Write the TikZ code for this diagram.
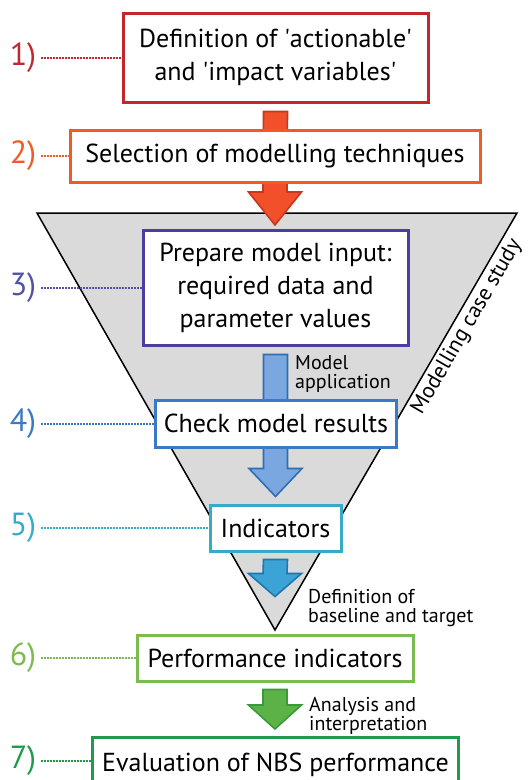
\documentclass[tikz,border=0pt]{standalone}
\usepackage{fontspec}
\setmainfont{PT Sans}
\usetikzlibrary{calc}
\pgfdeclarelayer{bg}
\pgfsetlayers{bg,main}

\definecolor{cred}{HTML}{C1272D}
\definecolor{corange}{HTML}{F15A24}
\definecolor{cpurple}{HTML}{4A3FA0}
\definecolor{cpurplelab}{HTML}{5151A8}
\definecolor{cblue}{HTML}{3A7AC4}
\definecolor{cteal}{HTML}{36ABC7}
\definecolor{clime}{HTML}{7CBB4F}
\definecolor{cgreen}{HTML}{1F9B4B}
\definecolor{funnel}{HTML}{DADADA}
\definecolor{afillA}{HTML}{F1502A}
\definecolor{aedgeA}{HTML}{C8381E}
\definecolor{afillB}{HTML}{7BA7E1}
\definecolor{aedgeB}{HTML}{2F6DB5}
\definecolor{afillC}{HTML}{3BA3D6}
\definecolor{aedgeC}{HTML}{1F76B0}
\definecolor{afillD}{HTML}{5DB247}
\definecolor{aedgeD}{HTML}{3A9A3A}

\tikzset{
  box/.style={draw=#1, line width=3pt, fill=white, inner sep=0pt,
    align=center, text=black, font=\fontsize{26}{33}\selectfont},
  num/.style={text=#1, font=\fontsize{32}{32}\selectfont, inner sep=2pt},
  dotline/.style={draw=#1, line width=2pt, dash pattern=on 1.4pt off 1.6pt,
    shorten <=3pt},
  note/.style={font=\fontsize{20}{19}\selectfont, align=left,
    anchor=north west, inner sep=0pt},
}

% block arrow: fill, edge colour, stem start, tip, head length
\newcommand\fatarrow[5]{%
  \path[fill=#1, draw=#2, line width=1.6pt, line join=miter]
    ($(#3)+(-12,0)$) -- ($(#4)+(-12,-#5)$) -- ($(#4)+(-26.5,-#5)$) -- (#4)
    -- ($(#4)+(26.5,-#5)$) -- ($(#4)+(12,-#5)$) -- ($(#3)+(12,0)$) -- cycle;}

\begin{document}
\begin{tikzpicture}[x=1pt,y=-1pt]
\useasboundingbox (0,0) rectangle (528,780);

% process boxes
\node[box=cred, minimum width=305pt, minimum height=89pt] (b1) at (275.5,57.5)
  {Definition of \textquotesingle actionable\textquotesingle\\and \textquotesingle impact variables\textquotesingle};
\node[box=corange, minimum width=410pt, minimum height=52pt] (b2) at (275,156)
  {Selection of modelling techniques};
\node[box=cpurple, minimum width=265pt, minimum height=115pt] (b3) at (275.5,287.5)
  {Prepare model input:\\required data and\\parameter values};
\node[box=cblue, minimum width=241pt, minimum height=47pt] (b4) at (276,423.5)
  {Check model results};
\node[box=cteal, minimum width=131pt, minimum height=46pt] (b5) at (275.5,528)
  {Indicators};
\node[box=clime, minimum width=276pt, minimum height=46pt] (b6) at (275,658)
  {Performance indicators};
\node[box=cgreen, minimum width=366pt, minimum height=54pt, text depth=0pt] (b7) at (275.5,764)
  {\raisebox{3pt}{Evaluation of NBS performance}};

% funnel and block arrows behind the boxes
\begin{pgfonlayer}{bg}
  \coordinate (ftl) at (37,213);
  \coordinate (ftr) at (517,213);
  \coordinate (fbot) at (275,630);
  \draw[fill=funnel, line width=1.5pt, line join=miter] (ftl) -- (ftr) -- (fbot) -- cycle;

  \coordinate (s1) at ($(b1.south)+(0,8)$);
  \coordinate (t1) at (275,225);
  \fatarrow{afillA}{aedgeA}{s1}{t1}{33}
  \coordinate (s3) at ($(b3.south)+(0,8)$);
  \coordinate (t3) at ($(b5.north)+(0,-7)$);
  \fatarrow{afillB}{aedgeB}{s3}{t3}{28}
  \coordinate (s5) at ($(b5.south)+(0,7)$);
  \coordinate (t5) at ($(b6.north)+(0,-37)$);
  \fatarrow{afillC}{aedgeC}{s5}{t5}{23}
  \coordinate (s6) at ($(b6.south)+(0,7)$);
  \coordinate (t6) at (275,729);
  \fatarrow{afillD}{aedgeD}{s6}{t6}{24}
\end{pgfonlayer}

% step numbers with dotted leaders
\node[num=cred] (n1) at (23,57.5) {1)};
\node[num=corange] (n2) at (23,156) {2)};
\node[num=cpurplelab] (n3) at (23,287.5) {3)};
\node[num=cblue] (n4) at (23,423.5) {4)};
\node[num=cteal] (n5) at (23,528) {5)};
\node[num=clime] (n6) at (23,658) {6)};
\node[num=cgreen] (n7) at (23,761) {7)};
\draw[dotline=cred] (n1.east) -- (b1.west);
\draw[dotline=corange] (n2.east) -- (b2.west);
\draw[dotline=cpurplelab] (n3.east) -- (b3.west);
\draw[dotline=cblue] (n4.east) -- (b4.west);
\draw[dotline=cteal] (n5.east) -- (b5.west);
\draw[dotline=clime] (n6.east) -- (b6.west);
\draw[dotline=cgreen] (n7.east) -- (n7.east -| b7.west);

% side notes
\node[note] (m1) at (295,355) {Model\\application};
\node[note] (m2) at (308,589) {Definition of\\baseline and target};
\node[note] (m3) at (309,697) {Analysis and\\interpretation};
\node[rotate=59.87, font=\fontsize{22}{22}\selectfont, inner sep=0pt] (mcs) at (467,327)
  {Modelling case study};
\end{tikzpicture}
\end{document}
